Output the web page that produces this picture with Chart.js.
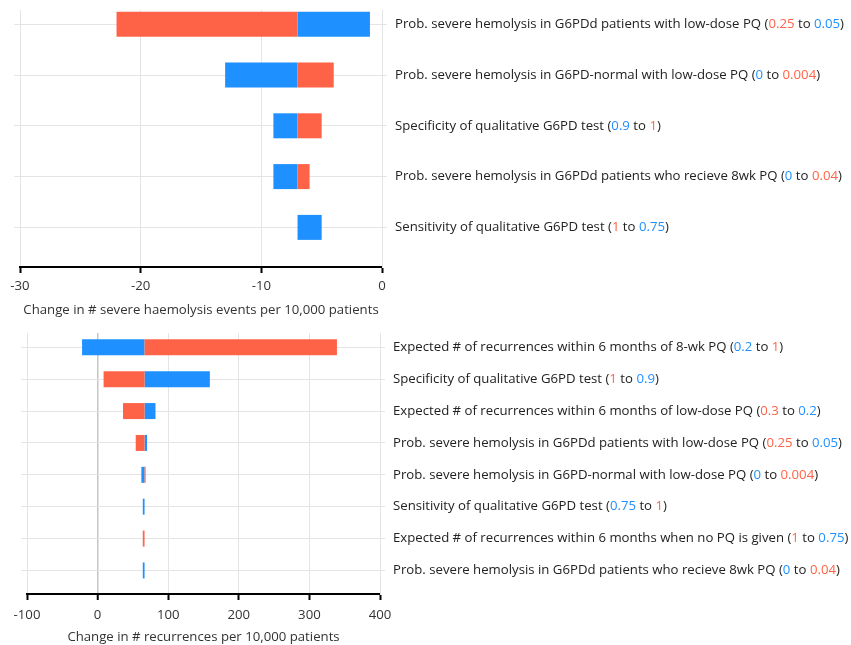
<!DOCTYPE html>
<html>
<head>
<meta charset="utf-8">
<script src="https://cdn.jsdelivr.net/npm/chart.js@4/dist/chart.umd.min.js"></script>
<style>
  html, body { margin: 0; padding: 0; background: #ffffff; }
  #wrap { position: relative; width: 851px; height: 645px; overflow: hidden; }
  canvas { position: absolute; left: 0; }
  #hemolysis { top: 0; }
  #recurrences { top: 322px; }
</style>
</head>
<body>
<div id="wrap">
  <canvas id="hemolysis" width="851" height="322"></canvas>
  <canvas id="recurrences" width="851" height="323"></canvas>
</div>
<script>
// ---- Severe haemolysis events (per 10,000 patients) ----
const hemoParams = [
  "Prob. severe hemolysis in G6PDd patients with low-dose PQ",
  "Prob. severe hemolysis in G6PD-normal with low-dose PQ",
  "Specificity of qualitative G6PD test",
  "Prob. severe hemolysis in G6PDd patients who recieve 8wk PQ",
  "Sensitivity of qualitative G6PD test"
];
const hemoFrom = ["0.25", "0", "0.9", "0", "1"];
const hemoTo = ["0.05", "0.004", "1", "0.04", "0.75"];
const hemoFromIsRed = [true, false, false, false, true];
const hemoBase = -7;
const hemoRedEnd = [-22, -4, -5, -6, -7];
const hemoBlueEnd = [-1, -13, -9, -9, -5];
const hemoTicks = [-30, -20, -10, 0];

// ---- Recurrences (per 10,000 patients) ----
const recParams = [
  "Expected # of recurrences within 6 months of 8-wk PQ",
  "Specificity of qualitative G6PD test",
  "Expected # of recurrences within 6 months of low-dose PQ",
  "Prob. severe hemolysis in G6PDd patients with low-dose PQ",
  "Prob. severe hemolysis in G6PD-normal with low-dose PQ",
  "Sensitivity of qualitative G6PD test",
  "Expected # of recurrences within 6 months when no PQ is given",
  "Prob. severe hemolysis in G6PDd patients who recieve 8wk PQ"
];
const recFrom = ["0.2", "1", "0.3", "0.25", "0", "0.75", "1", "0"];
const recTo = ["1", "0.9", "0.2", "0.05", "0.004", "1", "0.75", "0.04"];
const recFromIsRed = [false, true, true, true, false, false, true, false];
const recBase = 66.5;
const recRedEnd = [339, 8.5, 36, 54, 68, 66.5, 64, 66.5];
const recBlueEnd = [-22, 159, 82, 70, 62, 64, 66.5, 64];
const recTicks = [-100, 0, 100, 200, 300, 400];

const RED = "#FF6347";
const BLUE = "#1E90FF";
const TEXT = "#222222";
const GRID = "#e4e4e4";
const FONT = "'Open Sans', 'Noto Sans', sans-serif";
const FONT_SIZE = 13.2;

Chart.defaults.font.family = FONT;
Chart.defaults.font.size = FONT_SIZE;

// Parameter names with their coloured low/high values, drawn beside each row
const rowLabels = {
  id: "rowLabels",
  afterDraw(chart, args, opts) {
    const ctx = chart.ctx;
    const yScale = chart.scales.y;
    const x0 = chart.chartArea.right + opts.gap;
    ctx.save();
    ctx.font = FONT_SIZE + "px " + FONT;
    ctx.textBaseline = "middle";
    ctx.textAlign = "left";
    opts.names.forEach((name, i) => {
      const y = yScale.getPixelForValue(i);
      const fromC = opts.fromIsRed[i] ? RED : BLUE;
      const toC = opts.fromIsRed[i] ? BLUE : RED;
      const parts = [
        [name + " (", TEXT], [opts.from[i], fromC], [" to ", TEXT], [opts.to[i], toC], [")", TEXT]
      ];
      let x = x0;
      parts.forEach(([t, c]) => {
        ctx.fillStyle = c;
        ctx.fillText(t, x, y);
        x += ctx.measureText(t).width;
      });
    });
    ctx.restore();
  }
};

function tornado(canvasId, s) {
  const rows = s.names.map((_, i) => i);
  const bars = (ends, color) => ({
    data: rows.map(i => ({ x: [s.base, ends[i]], y: i })),
    backgroundColor: color,
    borderWidth: 0,
    inflateAmount: 0,
    grouped: false,
    barThickness: s.barThickness
  });
  const yCommon = {
    type: "linear",
    reverse: true,
    offset: false,
    min: s.yMin,
    max: s.yMax,
    ticks: { display: false, stepSize: 1, includeBounds: false }
  };
  return new Chart(document.getElementById(canvasId), {
    type: "bar",
    data: { datasets: [bars(s.redEnd, RED), bars(s.blueEnd, BLUE)] },
    options: {
      indexAxis: "y",
      responsive: false,
      animation: false,
      layout: { padding: { left: s.padLeft, top: s.padTop, right: 0, bottom: 0 } },
      plugins: {
        legend: { display: false },
        tooltip: { enabled: false },
        rowLabels: { names: s.names, from: s.from, to: s.to, fromIsRed: s.fromIsRed, gap: 13 }
      },
      scales: {
        x: {
          type: "linear",
          position: "bottom",
          min: s.ticks[0],
          max: s.ticks[s.ticks.length - 1],
          afterBuildTicks: (scale) => { scale.ticks = s.ticks.map(v => ({ value: v })); },
          ticks: { color: "#333333", padding: s.tickPad },
          grid: {
            color: (c) => (s.zeroLine && c.tick && c.tick.value === 0) ? "#c6c6c6" : GRID,
            lineWidth: (c) => (s.zeroLine && c.tick && c.tick.value === 0) ? 1.5 : 1,
            tickColor: "#000000",
            tickLength: 6,
            tickWidth: 2
          },
          border: { color: "#000000", width: 2 },
          title: {
            display: true,
            text: s.title,
            color: "#333333",
            padding: { top: 0, bottom: s.titlePad }
          },
          afterFit: (scale) => { scale.height = s.xHeight; }
        },
        y: Object.assign({}, yCommon, {
          position: "right",
          grid: { color: GRID, tickLength: 5, offset: false },
          border: { color: GRID },
          afterFit: (scale) => { scale.width = s.rightWidth; }
        }),
        yl: Object.assign({}, yCommon, {
          position: "left",
          grid: { color: GRID, drawOnChartArea: false, tickLength: 6, offset: false },
          border: { display: false },
          afterFit: (scale) => { scale.width = 6; }
        })
      }
    },
    plugins: [rowLabels]
  });
}

tornado("hemolysis", {
  names: hemoParams, from: hemoFrom, to: hemoTo, fromIsRed: hemoFromIsRed,
  base: hemoBase, redEnd: hemoRedEnd, blueEnd: hemoBlueEnd, ticks: hemoTicks,
  title: "Change in # severe haemolysis events per 10,000 patients",
  yMin: -0.28, yMax: 4.78, barThickness: 25,
  padLeft: 14, padTop: 10, rightWidth: 469, xHeight: 55, tickPad: 5, titlePad: 4, zeroLine: false
});

tornado("recurrences", {
  names: recParams, from: recFrom, to: recTo, fromIsRed: recFromIsRed,
  base: recBase, redEnd: recRedEnd, blueEnd: recBlueEnd, ticks: recTicks,
  title: "Change in # recurrences per 10,000 patients",
  yMin: -0.45, yMax: 7.74, barThickness: 16,
  padLeft: 21, padTop: 11, rightWidth: 471, xHeight: 51, tickPad: 7, titlePad: 0, zeroLine: true
});
</script>
</body>
</html>
